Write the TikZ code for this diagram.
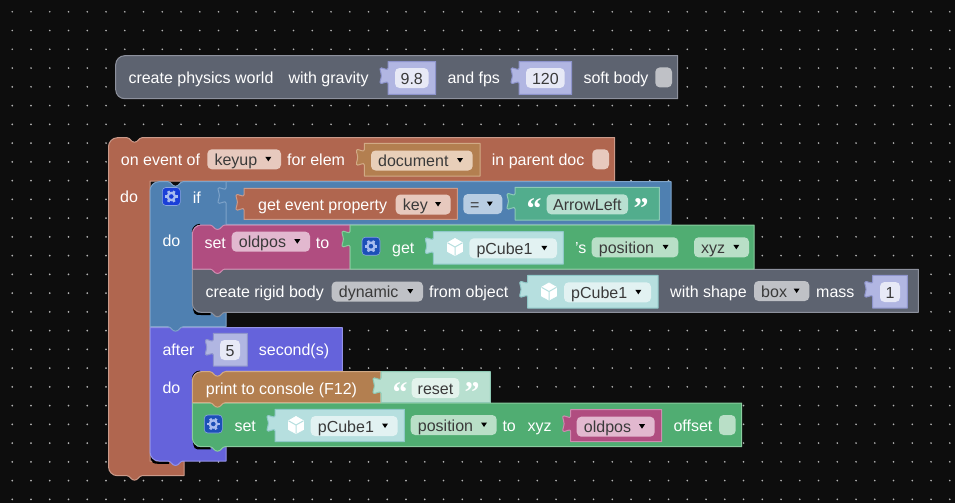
\documentclass[tikz,border=0pt]{standalone}
\usepackage{fontspec}
\setmainfont{Liberation Sans}
\newfontfamily\quotefont{Liberation Serif}
\definecolor{bgc}{HTML}{0D0D0D}
\definecolor{dotc}{HTML}{B4B4B4}
\definecolor{greyF}{HTML}{5D6370}\definecolor{greyS}{HTML}{8D919D}\definecolor{greyL}{HTML}{BFC1C6}
\definecolor{brownF}{HTML}{B0664F}\definecolor{brownS}{HTML}{CB9A8A}\definecolor{brownL}{HTML}{E7C9BE}
\definecolor{blueF}{HTML}{4F80B1}\definecolor{blueS}{HTML}{7EA3C9}\definecolor{blueL}{HTML}{B8CDE2}
\definecolor{purpF}{HTML}{6563DB}\definecolor{purpS}{HTML}{9392E6}
\definecolor{magF}{HTML}{B04D80}\definecolor{magS}{HTML}{CF8BB0}\definecolor{magL}{HTML}{E2B8CF}
\definecolor{grnF}{HTML}{50AD72}\definecolor{grnS}{HTML}{8ACC9F}\definecolor{grnL}{HTML}{B9DFC7}
\definecolor{tanF}{HTML}{B37F50}\definecolor{tanS}{HTML}{D1AA86}\definecolor{tanL}{HTML}{E8CFB9}
\definecolor{tealF}{HTML}{52AD8D}\definecolor{tealS}{HTML}{8CCAB6}\definecolor{tealL}{HTML}{B9E0D1}
\definecolor{numF}{HTML}{B1B6E2}\definecolor{numS}{HTML}{8E94CC}\definecolor{numL}{HTML}{E7E9F6}
\definecolor{cubF}{HTML}{B6DFDF}\definecolor{cubS}{HTML}{90C9C9}\definecolor{cubL}{HTML}{E2F2F2}
\definecolor{mintF}{HTML}{B8E0D0}\definecolor{mintS}{HTML}{8FCAB5}\definecolor{mintL}{HTML}{E3F3EC}
\definecolor{fldT}{HTML}{3A3A3A}
\definecolor{gearA}{HTML}{1A3FD8}\definecolor{gearB}{HTML}{1C4FB8}\definecolor{gearS}{HTML}{8AA5E0}\definecolor{gearG}{HTML}{A8BCF0}
\newcounter{nn}
\tikzset{
  lab/.style={anchor=base west,inner sep=0pt,yshift=-.7pt,text=white,font=\fontsize{16}{18}\selectfont},
  fldlab/.style={anchor=base west,inner sep=0pt,yshift=-.7pt,text=fldT,font=\fontsize{16}{18}\selectfont},
  numlab/.style={anchor=base,inner sep=0pt,yshift=-.7pt,text=fldT,font=\fontsize{16}{18}\selectfont},
  qlab/.style={anchor=base west,inner sep=0pt,yshift=-.7pt,text=white,font=\quotefont\bfseries\fontsize{30}{32}\selectfont},
  blk/.style 2 args={fill=#1,draw=#2,line width=1pt,line join=round},
  rim/.style={draw=black,line width=2.4pt,line cap=butt},
}
% rounded corner: from current point (x0,y0), corner (cx,cy), to (x3,y3)
\newcommand\cnr[6]{.. controls ({#1+.55*(#3-#1)},{#2+.55*(#4-#2)}) and ({#5+.55*(#3-#5)},{#6+.55*(#4-#6)}) .. (#5,#6)}
% top notch, bottom tab (path fragments)
\newcommand\ntop[2]{-- (#1,#2) .. controls (#1+3,#2) and (#1+4,#2+4.5) .. (#1+7.5,#2+4.5) .. controls (#1+11,#2+4.5) and (#1+12,#2) .. (#1+15,#2)}
\newcommand\nbot[2]{-- (#1+15,#2) .. controls (#1+12,#2) and (#1+11,#2+4.5) .. (#1+7.5,#2+4.5) .. controls (#1+4,#2+4.5) and (#1+3,#2) .. (#1,#2)}
% puzzle tab on a vertical edge, going down from (x,y)
\newcommand\ptab[2]{-- (#1,#2+6.5) .. controls (#1-1,#2+9.5) and (#1-3.5,#2+6) .. (#1-6.5,#2+6.2) .. controls (#1-9.5,#2+6.4) and (#1-6.8,#2+10) .. (#1-6.6,#2+14) .. controls (#1-6.8,#2+18) and (#1-9.5,#2+21.6) .. (#1-6.5,#2+21.8) .. controls (#1-3.5,#2+22) and (#1-1,#2+18.5) .. (#1,#2+21.5)}
% value block: x1 x2 y1 y2 fill stroke
\newcommand\vblk[6]{\draw[blk={#5}{#6}] (#1,#3) \ptab{#1}{#3} -- (#1,#4) -- (#2,#4) -- (#2,#3) -- cycle;}
\newcommand\tx[3]{\stepcounter{nn}\node[lab,name=n\arabic{nn}] at (#1,#2) {#3};}
\newcommand\qt[3]{\stepcounter{nn}\node[qlab,name=n\arabic{nn}] at (#1,#2) {#3};}
% dropdown field: x1 x2 y1 fill text
\newcommand\fld[5]{\fill[#4,rounded corners=4.5pt] (#1,#3) rectangle (#2,#3+20);
  \stepcounter{nn}\node[fldlab,name=n\arabic{nn}] at (#1+7,#3+15.5) {#5};
  \fill[black] (#2-15.7,#3+7.5) -- (#2-9.7,#3+7.5) -- (#2-12.7,#3+12) -- cycle;}
% plain field: x1 x2 y1 fill text (centred)
\newcommand\nfld[5]{\fill[#4,rounded corners=4.5pt] (#1,#3) rectangle (#2,#3+20);
  \stepcounter{nn}\node[numlab,name=n\arabic{nn}] at ({(#1+#2)/2},#3+15.5) {#5};}
\newcommand\gear[3]{\draw[fill=#3,draw=gearS,line width=.6pt,rounded corners=3.5pt] (#1,#2) rectangle (#1+18,#2+18);
  \foreach \a in {0,60,...,300}{\draw[gearG,line width=2.6pt] (#1+9,#2+9) ++(\a:3.5) -- ++(\a:2.7);}
  \draw[gearG,line width=2.2pt] (#1+9,#2+9) circle (3.6);}
\newcommand\cube[3]{\fill[white,line join=round,draw=white,line width=.8pt] (#1-7.5,#2-4.2) -- (#1,#2-8.5) -- (#1+7.5,#2-4.2) -- (#1+7.5,#2+4.5) -- (#1,#2+8.5) -- (#1-7.5,#2+4.5) -- cycle;
  \draw[#3,line width=1pt] (#1-7.5,#2-4.2) -- (#1,#2) -- (#1+7.5,#2-4.2) (#1,#2) -- (#1,#2+8.5);}
\begin{document}
\begin{tikzpicture}[x=1pt,y=-1pt]
\useasboundingbox (0,0) rectangle (955,503);
\fill[bgc] (0,0) rectangle (955,503);
\foreach \i in {0,...,50}{\foreach \j in {0,...,26}{
  \fill[dotc] ({12.25+18.75*\i},{11.8+18.75*\j}) circle (.95);}}

% ---- create physics world
\draw[blk={greyF}{greyS}] (115.7,64.7) \cnr{115.7}{64.7}{115.7}{55.7}{124.7}{55.7} -- (677.7,55.7) -- (677.7,98.7) -- (124.7,98.7) \cnr{124.7}{98.7}{115.7}{98.7}{115.7}{89.7} -- cycle;
\tx{128.3}{82.7}{create physics world}
\tx{288.3}{82.7}{with gravity}
\vblk{388}{435.7}{61.7}{94.3}{numF}{numS}
\nfld{395}{428.5}{68}{numL}{9.8}
\tx{447.3}{82.7}{and fps}
\vblk{519}{571.7}{61.7}{94.3}{numF}{numS}
\nfld{526}{564.7}{68}{numL}{120}
\tx{583.3}{82.7}{soft body}
\nfld{655.3}{672}{67.4}{greyL}{}

% ---- on event
\draw[blk={brownF}{brownS}] (108.5,146.7) \cnr{108.5}{146.7}{108.5}{137.7}{117.5}{137.7} \ntop{127}{137.7} -- (614.7,137.7) -- (614.7,181) -- (150,181) -- (150,461) -- (184,461) -- (184,475.7) \nbot{127}{475.7} -- (117.5,475.7) \cnr{117.5}{475.7}{108.5}{475.7}{108.5}{466.7} -- cycle;
\tx{120.7}{165}{on event of}
\fld{207.3}{281}{149.3}{brownL}{keyup}
\tx{287}{165}{for elem}
\vblk{364.3}{480}{143.3}{176}{tanF}{tanS}
\fld{371}{472.7}{150.5}{tanL}{document}
\tx{491.7}{165}{in parent doc}
\nfld{592.3}{609}{149.3}{brownL}{}
\tx{120}{202.2}{do}

% ---- after
\draw[rim] (152,455) .. controls (153,462.6) .. (159,462.6) -- (169,462.6);
\draw[blk={purpF}{purpS}] (150,327.7) -- (342.3,327.7) -- (342.3,371) -- (226,371) -- (226,461) \nbot{168}{461} -- (159,461) \cnr{159}{461}{150}{461}{150}{452} -- cycle;
\tx{162.3}{355}{after}
\vblk{213.3}{247.3}{333.3}{366}{numF}{numS}
\nfld{220}{240}{340}{numL}{5}
\tx{258.7}{355}{second(s)}
\tx{162.3}{392.3}{do}

% ---- if
\draw[blk={blueF}{blueS}] (150,190.7) \cnr{150}{190.7}{150}{181.7}{159}{181.7} \ntop{168}{181.7} -- (671,181.7) -- (671,224.3) -- (226,224.3) -- (226,326.7) \nbot{168}{326.7} -- (150,326.7) -- cycle;
\draw[blueS,line width=1pt] (226,182) \ptab{226}{181.5} -- (226,224);
\gear{162.3}{187.5}{gearA}
\tx{192.7}{203}{if}
\tx{162.3}{246}{do}
\vblk{244}{457.3}{188.3}{219.3}{brownF}{brownS}
\tx{258}{210}{get event property}
\fld{395.7}{450.7}{194.5}{brownL}{key}
\fill[blueL,rounded corners=4.5pt] (463.3,194) rectangle (502.3,214);
\tx{470}{209.5}{\textcolor{fldT}{=}}
\fill[black] (486.8,201.5) -- (492.8,201.5) -- (489.8,206) -- cycle;
\vblk{515}{659.3}{187.3}{220}{tealF}{tealS}
\qt{526.5}{218}{“}
\nfld{546.7}{628}{194.3}{tealL}{ArrowLeft}
\qt{633.5}{218}{”}

% ---- create rigid body
\draw[rim] (194,306) .. controls (195,313.8) .. (201,313.8) -- (210.5,313.8);
\draw[blk={greyF}{greyS}] (192.3,269.3) -- (918.3,269.3) -- (918.3,312.3) \nbot{210}{312.3} -- (201.3,312.3) \cnr{201.3}{312.3}{192.3}{312.3}{192.3}{303.3} -- cycle;
\tx{205.3}{296.7}{create rigid body}
\fld{331.7}{423}{281.5}{greyL}{dynamic}
\tx{429}{296.7}{from object}
\vblk{527.7}{658}{275.3}{308}{cubF}{cubS}
\cube{549}{291.5}{cubF}
\fld{564}{651}{282.3}{cubL}{pCube1}
\tx{670}{296.7}{with shape}
\fld{754}{809.3}{281}{greyL}{box}
\tx{816}{296.7}{mass}
\vblk{872.7}{907.3}{275.3}{308}{numF}{numS}
\nfld{880}{900}{282}{numL}{1}

% ---- set oldpos
\draw[rim,line width=1pt] (192.3,232) \cnr{192.3}{232}{192.3}{224.3}{200}{224.3};
\draw[blk={magF}{magS}] (192.3,234) \cnr{192.3}{234}{192.3}{225}{201.3}{225} \ntop{210}{225} -- (350,225) -- (350,269) \nbot{210}{269} -- (192.3,269) -- cycle;
\tx{204.3}{247.3}{set}
\fld{231.7}{310}{231.7}{magL}{oldpos}
\tx{315.7}{247.3}{to}
\vblk{350}{754}{225}{269}{grnF}{grnS}
\gear{362}{237.2}{gearB}
\tx{392}{252.7}{get}
\vblk{433.3}{563.3}{231.7}{264}{cubF}{cubS}
\cube{455}{247}{cubF}
\fld{469.3}{557}{238.3}{cubL}{pCube1}
\tx{575}{252.7}{'s}
\fld{591.7}{678.3}{237.3}{grnL}{position}
\fld{694}{749}{237.3}{grnL}{xyz}

% ---- set pCube1 position
\draw[rim] (194,440.4) .. controls (195,448.2) .. (201,448.2) -- (210.5,448.2);
\draw[blk={grnF}{grnS}] (192.3,403) -- (741.7,403) -- (741.7,446.7) \nbot{210}{446.7} -- (201.3,446.7) \cnr{201.3}{446.7}{192.3}{446.7}{192.3}{437.7} -- cycle;
\gear{204.3}{415}{gearB}
\tx{234.3}{430.7}{set}
\vblk{275}{404.3}{409.3}{441.7}{cubF}{cubS}
\cube{296}{425}{cubF}
\fld{310.7}{397.7}{416}{cubL}{pCube1}
\fld{410.7}{496.7}{415}{grnL}{position}
\tx{502.3}{430.7}{to}
\tx{527.3}{430.7}{xyz}
\vblk{570.7}{661.7}{409.7}{441.7}{magF}{magS}
\fld{576.7}{654.7}{416.7}{magL}{oldpos}
\tx{673.3}{430.7}{offset}
\nfld{719}{735.7}{415}{grnL}{}

% ---- print
\draw[rim,line width=1pt] (192.3,379) \cnr{192.3}{379}{192.3}{371}{200}{371};
\draw[blk={tanF}{tanS}] (192.3,380.7) \cnr{192.3}{380.7}{192.3}{371.7}{201.3}{371.7} \ntop{210}{371.7} -- (380.7,371.7) -- (380.7,402.7) \nbot{210}{402.7} -- (192.3,402.7) -- cycle;
\tx{205.7}{393.3}{print to console (F12)}
\vblk{381}{490.3}{371.7}{402.7}{mintF}{mintS}
\qt{392.5}{401.5}{“}
\nfld{411.7}{459.3}{378}{mintL}{reset}
\qt{464.5}{401.5}{”}
\end{tikzpicture}
\end{document}
